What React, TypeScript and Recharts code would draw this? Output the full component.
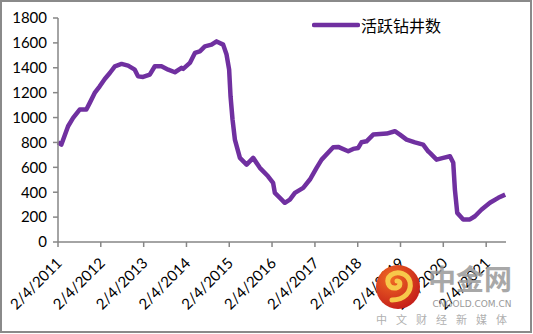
import { LineChart, Line, XAxis, YAxis, Legend } from 'recharts';

// weekly US oil rig count at roughly monthly spacing
const dates = [
  '2011-02-04', '2011-03-05', '2011-05-01', '2011-06-13', '2011-08-08', '2011-10-04',
  '2011-11-02', '2011-12-14', '2012-01-26', '2012-03-09', '2012-04-21', '2012-06-03',
  '2012-07-30', '2012-09-24', '2012-11-20', '2012-12-18', '2013-01-30', '2013-03-28',
  '2013-05-10', '2013-07-06', '2013-09-01', '2013-10-28', '2013-12-24', '2014-01-07',
  '2014-03-05', '2014-04-17', '2014-05-29', '2014-07-11', '2014-09-06', '2014-10-19',
  '2014-12-14', '2015-01-12', '2015-02-03', '2015-02-15', '2015-03-04', '2015-03-24',
  '2015-05-06', '2015-07-02', '2015-08-27', '2015-10-23', '2016-01-01', '2016-02-13',
  '2016-02-28', '2016-04-11', '2016-05-23', '2016-07-05', '2016-08-17', '2016-10-27',
  '2016-12-23', '2017-02-18', '2017-04-02', '2017-07-10', '2017-08-21', '2017-11-15',
  '2017-12-27', '2018-02-08', '2018-03-08', '2018-04-20', '2018-06-16', '2018-10-09',
  '2018-12-18', '2019-01-30', '2019-03-28', '2019-06-07', '2019-08-16', '2019-09-28',
  '2019-10-13', '2019-12-09', '2020-02-04', '2020-04-01', '2020-04-29', '2020-05-13',
  '2020-06-02', '2020-07-23', '2020-09-18', '2020-10-31', '2020-12-27', '2021-03-08',
  '2021-05-18', '2021-07-16',
];

const rigs = [
  800, 783, 930, 997, 1064, 1064,
  1118, 1198, 1251, 1310, 1358, 1412,
  1431, 1417, 1385, 1331, 1326, 1345,
  1412, 1412, 1385, 1364, 1399, 1391,
  1439, 1519, 1532, 1572, 1586, 1612,
  1586, 1506, 1385, 1171, 984, 823,
  676, 622, 676, 596, 528, 475,
  395, 355, 315, 341, 395, 435,
  502, 596, 662, 761, 764, 729,
  748, 756, 801, 809, 863, 871,
  890, 863, 823, 801, 783, 729,
  716, 662, 676, 689, 636, 421,
  234, 181, 181, 207, 261, 315,
  355, 381,
];

const tickYears = [2011, 2012, 2013, 2014, 2015, 2016, 2017, 2018, 2019, 2020, 2021];
const yTicks = [0, 200, 400, 600, 800, 1000, 1200, 1400, 1600, 1800];
const seriesName = '活跃钻井数';

const data = dates.map((d, i) => ({ t: Date.parse(d), v: rigs[i] }));
const xTicks = tickYears.map((y) => Date.UTC(y, 1, 4));
const xDomain = [Date.UTC(2011, 1, 4), Date.UTC(2021, 6, 23)];

const AXIS = '#868686';
const PURPLE = '#7030A0';
const FONT = 'Lato, "Noto Sans", sans-serif';

const XTick = (props: any) => {
  const { x, y, payload } = props;
  const d = new Date(payload.value);
  const label = `${d.getUTCMonth() + 1}/${d.getUTCDate()}/${d.getUTCFullYear()}`;
  const ax = x + 5;
  const ay = y + 15;
  return (
    <text
      x={ax}
      y={ay}
      textAnchor="end"
      transform={`rotate(-45 ${ax} ${ay})`}
      fontSize={15}
      fontFamily={FONT}
      fill="#000"
    >
      {label}
    </text>
  );
};

const LegendContent = () => (
  <div style={{ display: 'flex', alignItems: 'center' }}>
    <svg width={48} height={10}>
      <line x1={2} y1={5} x2={46} y2={5} stroke={PURPLE} strokeWidth={4.5} strokeLinecap="round" />
    </svg>
    <span
      style={{
        fontFamily: '"Noto Sans CJK SC", sans-serif',
        fontSize: 16,
        color: '#000',
        marginLeft: 1,
        lineHeight: '20px',
      }}
    >
      {seriesName}
    </span>
  </div>
);

const Watermark = () => (
  <svg
    width={533}
    height={334}
    style={{ position: 'absolute', left: 0, top: 0, pointerEvents: 'none' }}
  >
    <defs>
      <radialGradient id="logoGrad" cx="35%" cy="30%" r="75%">
        <stop offset="0%" stopColor="#f06a23" />
        <stop offset="100%" stopColor="#c41e1a" />
      </radialGradient>
    </defs>
    <circle cx={398} cy={287} r={22} fill="url(#logoGrad)" />
    <path
      d="M392 300 C404 300 412 292 410 282 C408 274 398 270 391 275 C385 280 388 289 396 288 C401 287 401 281 397 281"
      fill="none"
      stroke="#f7c84a"
      strokeWidth={5}
      strokeLinecap="round"
    />
    <text
      x={470}
      y={290}
      textAnchor="middle"
      fontSize={28}
      fontWeight={700}
      fontFamily='"Noto Sans CJK SC", sans-serif'
      fill="#9a9a9a"
      opacity={0.85}
    >
      中金网
    </text>
    <text
      x={472}
      y={307}
      textAnchor="middle"
      fontSize={9}
      fontFamily='"DejaVu Sans", sans-serif'
      fill="#9a9a9a"
    >
      CNGOLD.COM.CN
    </text>
    <text
      x={446}
      y={324}
      textAnchor="middle"
      fontSize={11}
      letterSpacing={9}
      fontFamily='"Noto Sans CJK SC", sans-serif'
      fill="#b0b0b0"
    >
      中文财经新媒体
    </text>
  </svg>
);

export default function App() {
  return (
    <div style={{ position: 'absolute', left: 0, top: 0, width: 533, height: 334, background: '#fff' }}>
      <LineChart
        width={533}
        height={334}
        data={data}
        margin={{ top: 18, right: 27, left: 0, bottom: 12 }}
      >
        <XAxis
          dataKey="t"
          type="number"
          scale="time"
          domain={xDomain}
          ticks={xTicks}
          interval={0}
          height={80}
          tick={<XTick />}
          tickSize={5}
          axisLine={{ stroke: AXIS, strokeWidth: 1.5 }}
          tickLine={{ stroke: AXIS, strokeWidth: 1.5 }}
        />
        <YAxis
          domain={[0, 1800]}
          ticks={yTicks}
          interval={0}
          width={58}
          tickSize={5}
          tickMargin={6}
          tick={{ fontSize: 15, fontFamily: FONT, fill: '#000' }}
          axisLine={{ stroke: AXIS, strokeWidth: 1.5 }}
          tickLine={{ stroke: AXIS, strokeWidth: 1.5 }}
        />
        <Legend
          layout="horizontal"
          verticalAlign="middle"
          align="center"
          content={<LegendContent />}
          wrapperStyle={{ top: 15, left: 312, width: 'auto' }}
        />
        <Line
          type="linear"
          dataKey="v"
          name={seriesName}
          stroke={PURPLE}
          strokeWidth={4.5}
          dot={false}
          strokeLinejoin="round"
          isAnimationActive={false}
        />
      </LineChart>
      <Watermark />
      <div
        style={{
          position: 'absolute',
          left: 0,
          top: 0,
          width: 532,
          height: 333,
          boxSizing: 'border-box',
          border: '2px solid #8a8a8a',
          pointerEvents: 'none',
        }}
      />
    </div>
  );
}
